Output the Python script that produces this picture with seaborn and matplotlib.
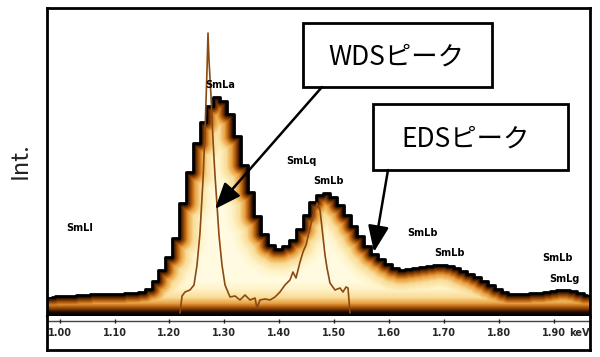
import numpy as np
import pandas as pd
import matplotlib
matplotlib.use("Agg")
import matplotlib.pyplot as plt
import seaborn as sns
from matplotlib.colors import LinearSegmentedColormap, Normalize
from matplotlib.patches import Rectangle, FancyArrowPatch

# ---------------- data ----------------
tick_values = [1.00, 1.10, 1.20, 1.30, 1.40, 1.50, 1.60, 1.70, 1.80, 1.90]
tick_labels = ["1.00", "1.10", "1.20", "1.30", "1.40", "1.50", "1.60", "1.70", "1.80", "1.90"]
unit_label = "keV"
y_label = "Int."

eds_start = 0.98
eds_width = 0.0125
eds_counts = [19, 20, 20, 20, 21, 21, 22, 22, 22, 22,
              22, 23, 23, 24, 27, 35, 46, 59, 78, 113,
              144, 173, 194, 210, 219, 215, 202, 180, 151, 124,
              100, 82, 71, 67, 70, 76, 87, 101, 114, 121,
              123, 119, 111, 101, 90, 80, 70, 62, 57, 52,
              48, 46, 47, 48, 49, 50, 51, 51, 50, 48,
              45, 42, 39, 35, 31, 27, 24, 22, 22, 22,
              23, 23, 24, 25, 26, 26, 25, 23, 21]
eds_energy = np.round(eds_start + eds_width * (np.arange(len(eds_counts)) + 0.5), 5)

wds_energy = [1.2193, 1.2230, 1.2284, 1.2375, 1.2448, 1.2503, 1.2557, 1.2612, 1.2648, 1.2685,
              1.2703, 1.2721, 1.2757, 1.2794, 1.2830, 1.2867, 1.2903, 1.2958, 1.3013, 1.3104,
              1.3195, 1.3286, 1.3377, 1.3468, 1.3559, 1.3595, 1.3650, 1.3741, 1.3832, 1.3923,
              1.4014, 1.4105, 1.4196, 1.4251, 1.4306, 1.4379, 1.4434, 1.4488, 1.4561, 1.4634,
              1.4689, 1.4743, 1.4780, 1.4834, 1.4871, 1.4925, 1.5016, 1.5107, 1.5162, 1.5217,
              1.5253, 1.5290]
wds_counts = [3, 20, 24, 26, 31, 51, 83, 136, 183, 246,
              283, 256, 221, 176, 141, 111, 81, 51, 31, 19,
              20, 16, 21, 16, 18, 8, 16, 17, 16, 19,
              24, 31, 36, 44, 38, 54, 64, 71, 88, 104,
              113, 106, 88, 61, 48, 33, 26, 28, 24, 29,
              28, 3]

line_names = ["SmLl", "SmLa", "SmLq", "SmLb", "SmLb", "SmLb", "SmLb", "SmLg"]
line_energy = [1.0372, 1.2922, 1.4401, 1.4896, 1.6603, 1.7093, 1.9062, 1.9189]
line_height = [88, 231, 155, 135, 83, 63, 58, 37]

wds_callout = "WDSピーク"
eds_callout = "EDSピーク"

# ---------------- style ----------------
sns.set_style("white")
plt.rcParams["font.family"] = ["Noto Sans CJK JP", "DejaVu Sans"]

W_PX, H_PX = 600, 357
fig = plt.figure(figsize=(6, 3.57), dpi=100)

def fx(x):
    return x / W_PX

def fy(y):
    return (H_PX - y) / H_PX

x_lo = 1 + (47 - 59.6) / 549
x_hi = 1 + (590 - 59.6) / 549
y_top = 308

ax = fig.add_axes([fx(47), fy(316), fx(590) - fx(47), fy(8) - fy(316)])
ax2 = fig.add_axes([fx(47), fy(350), fx(590) - fx(47), fy(316) - fy(350)])

# ---------------- glow fill (derived from EDS counts) ----------------
counts = np.asarray(eds_counts, dtype=float)
Wc, Hr = 543, 308
xc = x_lo + (np.arange(Wc) + 0.5) * (x_hi - x_lo) / Wc
k = np.clip(np.floor((xc - eds_start) / eds_width).astype(int), 0, len(counts) - 1)
Hc = counts[k]
Ic = np.arange(Hr) + 0.5
R = 40
Hp = np.pad(Hc, R, mode="edge")
d_top = np.full((Hr, Wc), np.inf)
for off in range(-R, R + 1):
    Hs = Hp[R + off:R + off + Wc]
    dv = np.maximum(0.0, Hs[None, :] - Ic[:, None])
    d_top = np.minimum(d_top, np.sqrt(off ** 2 + dv ** 2))
d_bot = (np.maximum(0.0, Ic - 2.0) * 0.9)[:, None]
dist = np.minimum(d_top, d_bot)
inside = Ic[:, None] < Hc[None, :]

cmap = LinearSegmentedColormap.from_list("glow", [
    (0.00, "#0d0500"),
    (0.06, "#1e0b00"),
    (0.13, "#6a3000"),
    (0.22, "#b86010"),
    (0.32, "#e8a040"),
    (0.50, "#f9dc98"),
    (0.75, "#fff3c8"),
    (1.00, "#fffae0"),
])
rgba = cmap(Normalize(0, 30, clip=True)(dist))
rgba[~inside, 3] = 0.0
ax.imshow(rgba, extent=[x_lo, x_hi, 0, Hr], origin="lower", aspect="auto",
          interpolation="nearest", zorder=1)

# ---------------- curves ----------------
eds_df = pd.DataFrame({"energy": eds_energy, "counts": eds_counts})
wds_df = pd.DataFrame({"energy": wds_energy, "counts": wds_counts})
sns.lineplot(data=eds_df, x="energy", y="counts", ax=ax, color="black",
             linewidth=2.0, drawstyle="steps-mid", errorbar=None, zorder=3)
sns.lineplot(data=wds_df, x="energy", y="counts", ax=ax, color="#8a4a12",
             linewidth=1.2, errorbar=None, sort=False, zorder=4)

for name, xe, yh in zip(line_names, line_energy, line_height):
    ax.text(xe, yh, name, ha="center", va="center", fontsize=7,
            fontweight="bold", family="DejaVu Sans", color="black", zorder=5)

ax.set_xlim(x_lo, x_hi)
ax.set_ylim(0, y_top)
ax.set_xticks([])
ax.set_yticks([])
ax.set_xlabel("")
ax.set_ylabel("")
for side in ["left", "top", "right"]:
    ax.spines[side].set_linewidth(2)
    ax.spines[side].set_color("black")
ax.spines["bottom"].set_linewidth(1.5)
ax.spines["bottom"].set_color("black")

# ---------------- energy strip ----------------
ax2.set_xlim(x_lo, x_hi)
ax2.set_ylim(0, 1)
ax2.set_yticks([])
ax2.axhline(0.85, color="#444444", linewidth=1.0)
ax2.plot(tick_values, [0.85] * len(tick_values), marker="|", ls="none",
         ms=3, color="#222222")
ax2.set_xticks(tick_values, tick_labels)
ax2.tick_params(axis="x", length=0, pad=-16, labelsize=7)
for lbl in ax2.get_xticklabels():
    lbl.set_fontweight("bold")
    lbl.set_family("DejaVu Sans")
ax2.text(1.946, 0.5, unit_label, ha="center", va="center", fontsize=7,
         fontweight="bold", family="DejaVu Sans")
ax2.spines["top"].set_visible(False)
for side in ["left", "right", "bottom"]:
    ax2.spines[side].set_linewidth(2)
    ax2.spines[side].set_color("black")

# ---------------- y label ----------------
fig.text(fx(20), fy(161), y_label, rotation=90, ha="center", va="center",
         fontsize=17, color="#222222")

# ---------------- callouts ----------------
def box(x0, y0, x1, y1):
    fig.add_artist(Rectangle((fx(x0), fy(y1)), fx(x1) - fx(x0), fy(y0) - fy(y1),
                             transform=fig.transFigure, facecolor="white",
                             edgecolor="black", linewidth=2, zorder=6))

box(303, 23, 492, 87)
fig.text(fx(396), fy(57), wds_callout, ha="center", va="center", fontsize=19,
         color="black", zorder=7)
box(373, 104, 568, 170)
fig.text(fx(466), fy(139), eds_callout, ha="center", va="center", fontsize=19,
         color="black", zorder=7)

arrow_kw = dict(arrowstyle="-|>,head_length=1.0,head_width=0.4", mutation_scale=16,
                linewidth=1.8, color="black", shrinkA=0, shrinkB=0)
fig.add_artist(FancyArrowPatch(
    (fx(322), fy(87)), (fx(215), fy(209)), transform=fig.transFigure,
    zorder=6, **arrow_kw))
fig.add_artist(FancyArrowPatch(
    (fx(388), fy(170)), (fx(374), fy(252)), transform=fig.transFigure,
    zorder=6, **arrow_kw))

fig.savefig("out.png", dpi=100)
